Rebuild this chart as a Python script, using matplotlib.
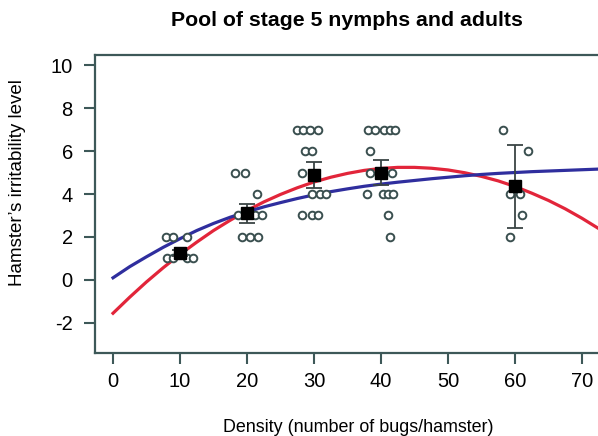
import matplotlib
matplotlib.use("Agg")
import matplotlib.pyplot as plt

plt.rcParams['font.family'] = ['Liberation Sans', 'DejaVu Sans']
plt.rcParams['axes.unicode_minus'] = False

# group means with error bars
dens = [10, 20, 30, 40, 60]
mean_irr = [1.25, 3.1, 4.9, 5.0, 4.35]
err_irr = [0.15, 0.45, 0.6, 0.6, 1.95]

# individual (jittered) observations
obs_x = [7.9, 9.0, 11.0,
         8.1, 9.0, 11.0, 11.9,
         18.2, 19.7, 21.5,
         18.7, 21.2, 22.2,
         19.3, 20.4, 21.6,
         27.5, 28.4, 29.4, 30.6,
         28.7, 29.7, 28.2,
         29.7, 30.9, 31.8,
         28.2, 29.7, 30.6,
         38.1, 39.1, 40.5, 41.3, 42.1,
         38.4, 38.4, 41.6,
         37.9, 40.3, 41.0, 41.8,
         41.0, 41.3,
         58.2, 61.9, 59.3, 60.7, 61.0, 59.3]
obs_y = [2, 2, 2,
         1, 1, 1, 1,
         5, 5, 4,
         3, 3, 3,
         2, 2, 2,
         7, 7, 7, 7,
         6, 6, 5,
         4, 4, 4,
         3, 3, 3,
         7, 7, 7, 7, 7,
         6, 5, 5,
         4, 4, 4, 4,
         3, 2,
         7, 6, 4, 4, 3, 2]

# fitted curves, values
curve_x = [0, 2.5, 5, 7.5, 10, 12.5, 15, 17.5, 20, 22.5, 25, 27.5, 30, 32.5, 35,
           37.5, 40, 42.5, 45, 47.5, 50, 52.5, 55, 57.5, 60, 62.5, 65, 67.5, 70, 72.5]
red_y = [-1.55, -0.80, -0.09, 0.57, 1.19, 1.76, 2.30, 2.78, 3.23, 3.63, 3.98, 4.29,
         4.56, 4.78, 4.96, 5.10, 5.19, 5.24, 5.24, 5.20, 5.12, 4.99, 4.82, 4.61,
         4.35, 4.04, 3.70, 3.31, 2.87, 2.39]
blue_y = [0.1, 0.62, 1.08, 1.52, 1.92, 2.3, 2.63, 2.92, 3.17, 3.4, 3.6, 3.79, 3.96,
          4.11, 4.24, 4.36, 4.46, 4.55, 4.63, 4.71, 4.78, 4.85, 4.91, 4.96, 5.0,
          5.04, 5.07, 5.1, 5.13, 5.16]

xticks = [0, 10, 20, 30, 40, 50, 60, 70]
yticks = [-2, 0, 2, 4, 6, 8, 10]

spine_c = '#3d5858'

fig = plt.figure(figsize=(5.98, 4.36), dpi=100)
ax = fig.add_axes([95/598, 1-353/436, 1-95/598, (353-55)/436])

ax.plot(curve_x, red_y, color='#e2253a', lw=2.3, zorder=2)
ax.plot(curve_x, blue_y, color='#2f2e9e', lw=2.3, zorder=2)
ax.plot(obs_x, obs_y, 'o', ms=5.5, mfc='white', mec='#3a4f4f', mew=1.4,
        linestyle='none', zorder=3)
ax.errorbar(dens, mean_irr, yerr=err_irr, fmt='none', ecolor='#3a4444',
            elinewidth=1.3, capsize=5.5, capthick=1.3, zorder=4)
ax.plot(dens, mean_irr, 's', ms=9, color='black', linestyle='none', zorder=5)

ax.set_xlim(-2.69, 72.39)
ax.set_ylim(-3.40, 10.47)
ax.set_xticks(xticks)
ax.set_yticks(yticks)
ax.tick_params(axis='both', length=8, width=1.5, color=spine_c, labelsize=14.5)
ax.tick_params(axis='x', pad=6)
ax.tick_params(axis='y', pad=8)
ax.spines['right'].set_visible(False)
for s in ['left', 'bottom', 'top']:
    ax.spines[s].set_color(spine_c)
    ax.spines[s].set_linewidth(1.6)

fig.text(347/598, 1-20/436, 'Pool of stage 5 nymphs and adults',
         ha='center', va='center', fontsize=15.3, fontweight='bold')
fig.text(358/598, 1-427/436, 'Density (number of bugs/hamster)',
         ha='center', va='center', fontsize=12.9)
fig.text(18/598, 1-183/436, 'Hamster\u2019s irritability level',
         ha='center', va='center', rotation=90, fontsize=13.5)

fig.savefig('out.png', dpi=100)
